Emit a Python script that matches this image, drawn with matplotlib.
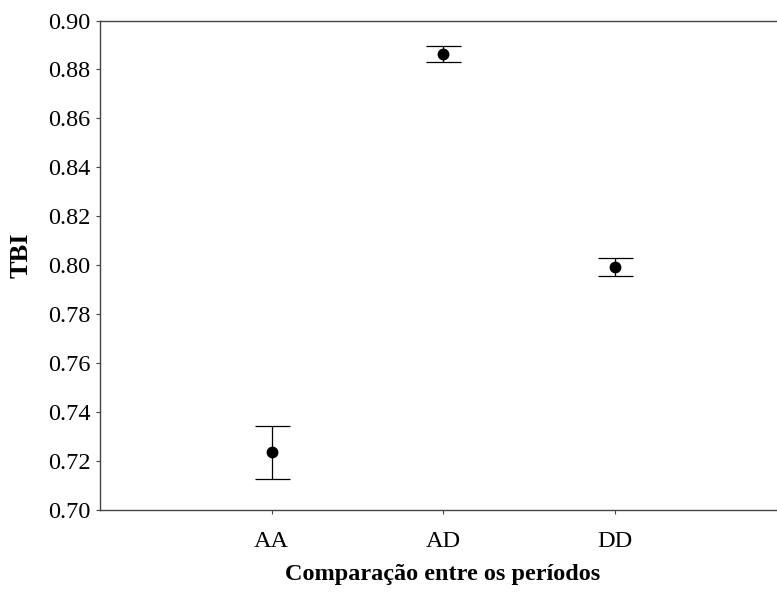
import numpy as np
import matplotlib.pyplot as plt

# data
categorias = ['AA', 'AD', 'DD']
tbi_media = [0.7236, 0.8864, 0.7994]
tbi_erro = [0.0108, 0.0033, 0.0037]

plt.rcParams['font.family'] = ['Liberation Serif', 'DejaVu Serif']

fig = plt.figure(figsize=(7.77, 5.94), dpi=100)
ax = fig.add_axes([100 / 777, 84 / 594, 686 / 777, 489.5 / 594])

x = np.arange(1, len(categorias) + 1)
ax.errorbar(x, tbi_media, yerr=tbi_erro, fmt='o', color='black',
            markersize=7.5, elinewidth=0.9, capsize=12.6, capthick=0.9,
            ecolor='black')

ax.set_xlim(0, 4)
ax.set_ylim(0.70, 0.90)
ax.set_xticks(x)
ax.set_xticklabels(categorias)
ax.set_yticks(np.arange(0.70, 0.901, 0.02))
ax.set_yticklabels([f'{v:.2f}' for v in np.arange(0.70, 0.901, 0.02)])

for s in ['left', 'bottom', 'top']:
    ax.spines[s].set_color('#444444')
    ax.spines[s].set_linewidth(1.0)
ax.spines['right'].set_visible(False)

ax.tick_params(direction='out', length=3, width=0.8, color='#444444',
               labelsize=17.5, pad=4)
ax.tick_params(axis='x', pad=12)

ax.set_xlabel('Comparação entre os períodos', fontsize=17.5, fontweight='bold',
              labelpad=9)
ax.set_ylabel('TBI', fontsize=19, fontweight='bold')
ax.yaxis.set_label_coords(-0.099, 0.52)

fig.savefig('out.png', dpi=100)
